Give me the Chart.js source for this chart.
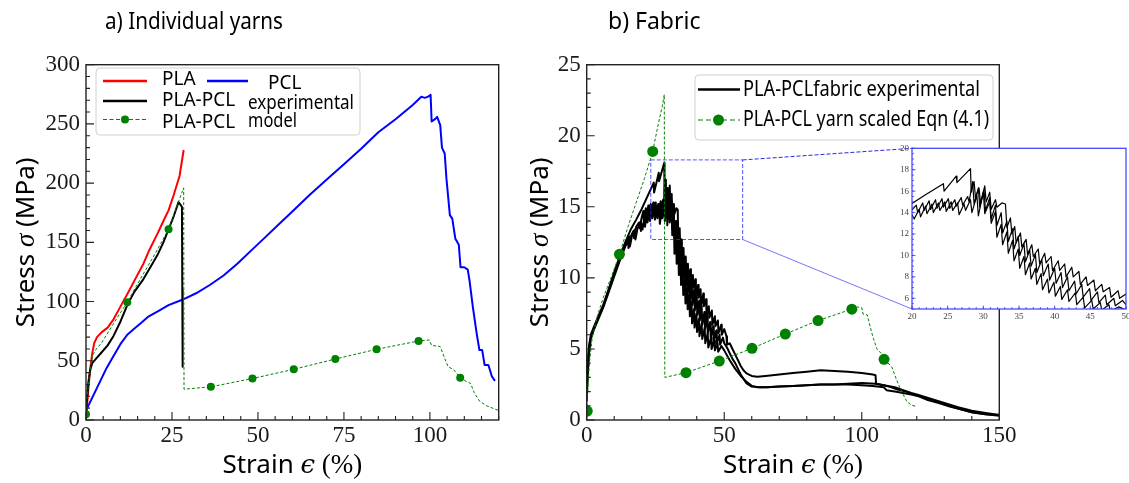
<!DOCTYPE html>
<html>
<head>
<meta charset="utf-8">
<script src="https://cdn.jsdelivr.net/npm/chart.js"></script>
<style>
  body { margin: 0; background: #fff; }
  #wrap { position: relative; width: 1129px; height: 483px; }
  canvas { position: absolute; left: 0; top: 0; }
</style>
</head>
<body>
<div id="wrap">
  <canvas id="yarns" width="1129" height="483"></canvas>
  <canvas id="fabric" width="1129" height="483"></canvas>
  <canvas id="inset" width="1129" height="483"></canvas>
</div>
<script>
// a) individual yarns, [strain %, stress MPa]
const pla = [[0,0],[0.3,12],[0.8,30],[1.3,45],[1.8,56],[2.4,65],[3.2,70],[4.5,74],[6.3,78],[8,85],[9.5,93],[11,101],[12.5,109],[14.5,120],[16.7,132],[18.5,144],[20.9,158],[22.5,168],[24,177],[25.5,190],[27.2,206],[28.4,228]];
const pcl = [[0,8],[2,20],[4,32],[6,44],[8,54],[10,64],[12,72],[14,77],[16,82],[18,87],[21,92],[24,97],[28,101.5],[32,107],[36,114],[40,122],[44,132],[48,143],[52,154],[56,165],[60,176],[65,190],[70,203],[75,216],[80,229],[85,243],[90,254],[95,266],[97.5,273],[98.5,272],[99.5,273],[100.2,274.5],[100.5,252],[101.5,254],[102.1,256],[103,249],[103.5,230],[104.3,225],[104.8,204],[105.8,173],[106.5,170],[107.4,153],[108.4,148],[108.9,129],[110,129],[111,127],[111.5,118],[112.5,95],[113.6,73],[114.4,59],[115.2,59],[115.9,46.5],[117,46.5],[118,37],[118.9,33]];
const yarnExp = [[0,5],[0.3,18],[0.7,32],[1.2,42],[1.8,48],[3,52],[4.5,57],[6.3,63],[8,71],[10,83],[12,97],[14,108],[16.7,119],[18.5,128],[20.9,140],[22.5,150],[24,161],[25.5,172],[26.9,184],[27.4,182],[27.9,180],[28.0,110],[28.1,45]];
const yarnModel = [[0,4.8],[0.5,25],[1,38],[2,55],[3,60],[4.5,65],[6,72],[9,86],[12,99.4],[15,115],[18,130],[21,145],[24,161],[26,177],[27.5,189],[28.4,196],[28.5,26],[36.3,28],[48.4,35],[60.4,42.8],[72.5,51.5],[84.5,59.7],[96.7,66.7],[99.8,67.6],[100.5,63],[103,62],[104.3,52],[105.3,45],[106.9,42.5],[108.8,35.7],[110.7,32.4],[111.8,31],[112.9,23],[114.4,16],[116.5,12],[118.6,9.6],[120,8]];
const yarnModelMarks = [[0,4.8],[12,99.4],[24,161],[36.3,28],[48.4,35],[60.4,42.8],[72.5,51.5],[84.5,59.7],[96.7,66.7],[108.8,35.7]];

// b) fabric, three experimental runs
const fabricA = [[0,1.6],[0.3,3.2],[0.7,4.7],[1.2,5.6],[2.4,6.3],[4,7.1],[6,8],[8,9.2],[10,10.4],[12,11.5],[14,12.5],[16,13.4],[18,14.1],[20,14.85],[22,15.7],[24.4,16.7],[24.5,16.0],[26.2,17.4],[26.3,16.8],[28.2,18.1],[28.3,15.9],[28.7,16.9],[28.9,15.4],[29.4,16.3],[29.6,14.9],[30.2,16.5],[30.4,15.0],[30.9,15.9],[31.1,14.3],[31.7,15.2],[31.9,14.5],[32.6,14.9],[33.1,14.8],[33.3,12.6],[33.8,13.5],[34,12.0],[34.4,12.7],[34.6,11.2],[35.2,12.1],[35.4,10.8],[36,11.5],[36.2,10.1],[36.8,11.0],[37,9.9],[37.7,10.6],[37.9,9.2],[38.6,10.2],[38.8,9.3],[39.5,9.9],[39.7,8.6],[40.5,9.5],[40.7,8.6],[41.4,9.2],[41.6,8.0],[42.4,8.9],[42.6,8.0],[43.4,8.5],[43.6,7.3],[44.4,8.0],[44.6,7.2],[45.5,7.7],[45.7,6.7],[46.6,7.3],[46.8,6.6],[47.7,7.0],[47.9,6.1],[48.9,6.7],[49.1,6.0],[50,6.4],[50.8,5.9],[51,5.3],[52,5.4],[53,5.0],[54,4.6],[55,4.2],[56,3.8],[57,3.5],[58,3.3],[59,3.2],[60,3.1],[62,3.05],[65,3.1],[70,3.2],[75,3.3],[80,3.4],[85,3.5],[90,3.45],[95,3.4],[100,3.3],[104,3.2],[105,3.15],[105.2,2.55],[108,2.45],[112,2.3],[115,2.1],[118,1.9],[120,1.8],[125,1.5],[130,1.2],[135,0.9],[140,0.65],[145,0.5],[150,0.35]];
const fabricB = [[0,1.3],[0.3,2.9],[0.8,4.6],[1.5,5.7],[2.5,6.3],[4,7],[6,7.9],[8,9],[10,10.1],[12,11.2],[14,12.2],[15,12.6],[15.2,12.1],[16,12.9],[17,13.3],[17.2,12.8],[18,13.6],[19,13.9],[19.2,13.5],[20,14.25],[20.6,14.7],[20.8,14.0],[21.5,14.9],[21.7,14.2],[22.4,15.1],[22.6,14.3],[23.3,15.2],[23.5,14.4],[24.2,15.3],[24.4,14.5],[25.1,15.3],[25.3,14.4],[26,15.2],[26.2,14.6],[26.9,15.4],[27.1,14.7],[27.8,15.5],[28,15.0],[28.5,16.9],[28.7,14.8],[29.3,16.3],[29.5,14.5],[30.1,16.1],[30.3,14.2],[30.9,15.4],[31.1,13.4],[31.7,14.7],[31.9,12.8],[32.5,14.0],[32.7,12.1],[33.3,13.2],[33.5,11.3],[34.1,12.5],[34.3,10.6],[34.9,11.8],[35.1,10.0],[35.7,11.1],[35.9,9.4],[36.5,10.5],[36.7,9.0],[37.3,10.1],[37.5,8.4],[38.2,9.6],[38.4,8.1],[39.1,9.2],[39.3,7.7],[40,8.8],[40.2,7.4],[40.9,8.4],[41.1,7.0],[41.8,8.0],[42,6.7],[42.8,7.6],[43,6.4],[43.8,7.3],[44,6.1],[44.9,6.9],[45.1,5.8],[46,6.6],[46.2,5.6],[47.1,6.3],[47.3,5.4],[48.3,6.0],[48.5,5.3],[49.5,5.8],[50,5.4],[51,5.1],[52,4.7],[53,4.3],[54,4.0],[55,3.6],[56,3.2],[57,2.9],[58,2.6],[60,2.35],[63,2.3],[66,2.3],[70,2.35],[75,2.4],[80,2.45],[85,2.5],[90,2.5],[95,2.55],[100,2.6],[105,2.55],[108,2.45],[110,2.35],[113,2.15],[116,2.0],[119,1.8],[122,1.6],[126,1.4],[130,1.1],[135,0.8],[140,0.55],[145,0.4],[150,0.3]];
const fabricC = [[0,1.9],[0.3,3.6],[0.8,5.1],[1.5,6],[2.5,6.5],[4,7.2],[6,8.1],[8,9.2],[10,10.3],[12,11.3],[14,12.3],[15.5,12.9],[15.7,12.2],[16.5,13],[17.5,13.4],[17.7,12.7],[18.5,13.5],[19.5,13.9],[19.7,13.3],[20,13.8],[20.3,13.4],[21,14.3],[21.2,13.6],[21.9,14.6],[22.1,13.9],[22.8,14.8],[23,14.0],[23.7,14.9],[23.9,14.2],[24.6,15.0],[24.8,14.1],[25.5,15.0],[25.7,14.2],[26.4,14.9],[26.6,13.8],[27.3,14.8],[27.5,14.2],[28.2,15.2],[28.4,14.0],[29.1,15.6],[29.3,13.7],[30,15.9],[30.2,13.9],[30.9,15.0],[31.1,13.0],[31.7,14.1],[31.9,11.7],[32.5,12.9],[32.7,11.0],[33.3,12.2],[33.5,10.2],[34.1,11.4],[34.3,9.5],[34.9,10.6],[35.1,8.8],[35.7,9.9],[35.9,8.2],[36.5,9.3],[36.7,7.8],[37.3,8.8],[37.5,7.3],[38.1,8.3],[38.3,6.8],[39,7.8],[39.2,6.5],[39.9,7.5],[40.1,6.2],[40.8,7.1],[41,5.9],[41.8,6.8],[42,5.7],[42.9,6.5],[43.1,5.4],[44,6.1],[44.2,5.1],[45.2,5.8],[45.4,5.0],[46.4,5.6],[46.6,4.9],[47.6,5.4],[47.8,4.8],[49,5.2],[50,4.9],[52,4.2],[54,3.6],[56,3.1],[58,2.7],[60,2.4],[62,2.3],[65,2.3],[70,2.35],[75,2.4],[80,2.45],[85,2.5],[90,2.5],[95,2.5],[100,2.45],[104,2.4],[108,2.3],[109,2.1],[112,2.0],[115,1.9],[118,1.8],[121,1.65],[124,1.4],[128,1.2],[132,0.95],[136,0.75],[140,0.55],[145,0.4],[150,0.35]];
const fabricModel = [[0,0.6],[0.5,2.5],[1,4],[2,5.8],[4,7.4],[6,8.6],[9,10.1],[12,11.7],[15,13.6],[18,15.3],[21,17],[24,18.9],[26,20.8],[27.5,22.1],[28.2,22.9],[28.4,3.0],[36.1,3.33],[48.2,4.15],[60.1,5.04],[72.2,6.05],[84.1,7.0],[96.4,7.8],[98.5,7.95],[100,7.9],[100.5,7.45],[102,7.4],[103,6.6],[104.2,5.75],[105.5,5.0],[107,4.7],[108.1,4.27],[110.9,3.75],[112.5,2.9],[113.9,2.23],[116.4,1.29],[118,1.05],[120,0.94]];
const fabricModelMarks = [[0.2,0.63],[11.9,11.66],[24,18.9],[36.1,3.33],[48.2,4.15],[60.1,5.04],[72.2,6.05],[84.1,7.0],[96.4,7.8],[108.1,4.27]];

// tick labels
const yarnStrainTicks = [0, 25, 50, 75, 100];
const yarnStressTicks = [0, 50, 100, 150, 200, 250, 300];
const fabricStrainTicks = [0, 50, 100, 150];
const fabricStressTicks = [0, 5, 10, 15, 20, 25];
const insetStrainTicks = [20, 25, 30, 35, 40, 45, 50];
const insetStressTicks = [6, 8, 10, 12, 14, 16, 18, 20];
// zoomed region marked on the fabric plot: strain from/to, stress from/to
const zoomBox = [23.3, 56.7, 12.7, 18.3];

const W = 1129, H = 483;
const areaA = { left: 86, top: 64.7, right: 498.7, bottom: 420 };
const areaB = { left: 586.7, top: 64.7, right: 999.3, bottom: 420 };
const areaI = { left: 912, top: 148.3, right: 1126, bottom: 309 };
const SANS = '"Noto Sans", sans-serif';
const SERIF = '"Liberation Serif", serif';
const GREEN = '#008000';

const xy = arr => arr.map(([x, y]) => ({ x, y }));
const line = (d, color, w, dash) => ({ data: xy(d), showLine: true, borderColor: color, borderWidth: w,
  borderDash: dash || [], borderJoinStyle: 'round', pointRadius: 0, tension: 0, fill: false });
const marks = (d, r) => ({ data: xy(d), showLine: false, pointRadius: r,
  pointBackgroundColor: GREEN, pointBorderColor: GREEN, pointBorderWidth: 0 });

function baseOptions(area, c) {
  return {
    responsive: false, animation: false, events: [], devicePixelRatio: 1,
    layout: { padding: { left: 0, top: area.top, right: W - area.right, bottom: 0 } },
    plugins: { legend: { display: false }, tooltip: { enabled: false }, frame: c.frame },
    scales: {
      x: {
        type: 'linear', min: c.xMin, max: c.xMax,
        grid: { display: false, drawTicks: false }, border: { display: false },
        afterBuildTicks: s => { s.ticks = c.xTicks.map(v => ({ value: v })); },
        afterFit: s => { s.height = H - area.bottom; s.paddingLeft = 0; s.paddingRight = 0; },
        ticks: { font: { family: SERIF, size: c.font }, color: c.tickColor, padding: c.xPad, maxRotation: 0, autoSkip: false }
      },
      y: {
        type: 'linear', min: c.yMin, max: c.yMax,
        grid: { display: false, drawTicks: false }, border: { display: false },
        afterBuildTicks: s => { s.ticks = c.yTicks.map(v => ({ value: v })); },
        afterFit: s => { s.width = area.left; s.paddingTop = 0; s.paddingBottom = 0; },
        ticks: { font: { family: SERIF, size: c.font }, color: c.tickColor, padding: c.yPad, autoSkip: false }
      }
    }
  };
}

// box around the plot plus inward major/minor ticks
const frame = {
  id: 'frame',
  beforeDatasetsDraw(chart, args, o) {
    if (!o.fill) return;
    const a = chart.chartArea, ctx = chart.ctx;
    ctx.save(); ctx.fillStyle = o.fill; ctx.fillRect(a.left, a.top, a.width, a.height); ctx.restore();
  },
  afterDraw(chart, args, o) {
    const { ctx, chartArea: a, scales: { x, y } } = chart;
    ctx.save();
    ctx.strokeStyle = o.color;
    ctx.lineWidth = o.tickWidth;
    ctx.beginPath();
    const tx = (v, len) => { const p = x.getPixelForValue(v); ctx.moveTo(p, a.bottom); ctx.lineTo(p, a.bottom - len); };
    const ty = (v, len) => { const p = y.getPixelForValue(v); ctx.moveTo(a.left, p); ctx.lineTo(a.left + len, p); };
    for (let v = x.min; v <= x.max + 1e-9; v += o.xMinor) tx(v, o.minorLen);
    for (let v = y.min; v <= y.max + 1e-9; v += o.yMinor) ty(v, o.minorLen);
    x.ticks.forEach(t => tx(t.value, o.majorLen));
    y.ticks.forEach(t => ty(t.value, o.majorLen));
    ctx.stroke();
    ctx.lineWidth = o.width;
    ctx.strokeRect(a.left, a.top, a.right - a.left, a.bottom - a.top);
    ctx.restore();
  }
};

function pieces(ctx, parts, x, y) {
  let total = 0;
  parts.forEach(p => { ctx.font = p[1]; p.w = ctx.measureText(p[0]).width; total += p.w; });
  let cx = x - total / 2;
  ctx.textAlign = 'left';
  parts.forEach(p => { ctx.font = p[1]; ctx.fillText(p[0], cx, y); cx += p.w; });
}

function axisTitles(ctx, a, yTitleX) {
  ctx.fillStyle = '#000';
  ctx.textBaseline = 'alphabetic';
  pieces(ctx, [['Strain ', `26px ${SANS}`], ['\u03f5', `italic 26px "DejaVu Serif"`], [' (%)', `27px ${SERIF}`]],
    (a.left + a.right) / 2, 473);
  ctx.save();
  ctx.translate(yTitleX, (a.top + a.bottom) / 2);
  ctx.rotate(-Math.PI / 2);
  pieces(ctx, [['Stress ', `26px ${SANS}`], ['\u03c3', `italic 27px ${SERIF}`], [' (MPa)', `26px ${SANS}`]], 0, 0);
  ctx.restore();
}

function legendBox(ctx, l, t, r, b) {
  ctx.save();
  ctx.fillStyle = 'rgba(255,255,255,0.85)';
  ctx.strokeStyle = '#d0d0d0';
  ctx.lineWidth = 1;
  ctx.beginPath();
  ctx.roundRect(l, t, r - l, b - t, 4);
  ctx.fill(); ctx.stroke();
  ctx.restore();
}

function handle(ctx, x0, x1, y, color, w, dash) {
  ctx.save();
  ctx.strokeStyle = color; ctx.lineWidth = w; ctx.setLineDash(dash || []);
  ctx.beginPath(); ctx.moveTo(x0, y); ctx.lineTo(x1, y); ctx.stroke();
  ctx.restore();
}

function dot(ctx, x, y, r) {
  ctx.save(); ctx.fillStyle = GREEN; ctx.beginPath(); ctx.arc(x, y, r, 0, Math.PI * 2); ctx.fill(); ctx.restore();
}

function label(ctx, text, x, y, size, maxW) {
  ctx.font = `${size}px ${SANS}`;
  ctx.textAlign = 'left'; ctx.textBaseline = 'middle'; ctx.fillStyle = '#000';
  ctx.fillText(text, x, y, maxW);
}

const yarnText = {
  id: 'yarnText',
  afterDraw(chart) {
    const { ctx, chartArea: a } = chart;
    ctx.save();
    ctx.font = `23px ${SANS}`; ctx.fillStyle = '#000'; ctx.textBaseline = 'alphabetic'; ctx.textAlign = 'left';
    ctx.fillText('a) Individual yarns', 105, 29, 178);
    axisTitles(ctx, a, 34);
    legendBox(ctx, 96, 68, 360, 135);
    handle(ctx, 103, 147, 81, '#ff0000', 2.5);
    label(ctx, 'PLA', 162, 80, 19, 37);
    handle(ctx, 207, 248, 81, '#0000ff', 2.5);
    label(ctx, 'PCL', 268, 84, 19, 36);
    handle(ctx, 103, 147, 101, '#000', 2.5);
    label(ctx, 'PLA-PCL', 162, 101, 19, 77);
    label(ctx, 'experimental', 248, 104, 19, 106);
    handle(ctx, 103, 147, 119.5, GREEN, 1, [4, 2.5]);
    dot(ctx, 125, 119.5, 4);
    label(ctx, 'PLA-PCL', 162, 122.5, 19, 77);
    label(ctx, 'model', 248, 122, 19, 49);
    ctx.restore();
  }
};

const fabricText = {
  id: 'fabricText',
  afterDatasetsDraw(chart) {
    const { ctx, scales: { x, y } } = chart;
    const x0 = x.getPixelForValue(zoomBox[0]), x1 = x.getPixelForValue(zoomBox[1]);
    const y0 = y.getPixelForValue(zoomBox[2]), y1 = y.getPixelForValue(zoomBox[3]);
    ctx.save();
    ctx.strokeStyle = 'rgba(40,40,255,0.8)'; ctx.lineWidth = 1; ctx.setLineDash([4, 2]);
    ctx.strokeRect(x0, y1, x1 - x0, y0 - y1);
    ctx.strokeStyle = 'rgba(20,20,220,0.9)';
    ctx.beginPath(); ctx.moveTo(x1, y1); ctx.lineTo(areaI.left, areaI.top); ctx.stroke();
    ctx.setLineDash([]); ctx.strokeStyle = 'rgba(60,60,255,0.7)';
    ctx.beginPath(); ctx.moveTo(x1, y0); ctx.lineTo(areaI.left, areaI.bottom); ctx.stroke();
    ctx.restore();
  },
  afterDraw(chart) {
    const { ctx, chartArea: a } = chart;
    ctx.save();
    ctx.font = `23px ${SANS}`; ctx.fillStyle = '#000'; ctx.textBaseline = 'alphabetic'; ctx.textAlign = 'left';
    ctx.fillText('b) Fabric', 608, 29, 93);
    axisTitles(ctx, a, 548);
    legendBox(ctx, 695, 75, 993, 140);
    handle(ctx, 698, 740, 89.5, '#000', 2.5);
    label(ctx, 'PLA-PCLfabric experimental', 743, 90.5, 21, 237);
    handle(ctx, 698, 740, 120, GREEN, 1.2, [5, 3]);
    dot(ctx, 718.5, 120, 5.5);
    label(ctx, 'PLA-PCL yarn scaled Eqn (4.1)', 743, 120.5, 21, 246);
    ctx.restore();
  }
};

new Chart(document.getElementById('yarns'), {
  type: 'scatter',
  data: { datasets: [
    marks(yarnModelMarks, 4),
    line(yarnModel, GREEN, 1, [3, 2]),
    line(yarnExp, '#000', 2),
    line(pla, '#ff0000', 2),
    line(pcl, '#0000ff', 2)
  ] },
  options: baseOptions(areaA, {
    xMin: 0, xMax: 120, yMin: 0, yMax: 300, xTicks: yarnStrainTicks, yTicks: yarnStressTicks,
    font: 23, tickColor: '#1a1a1a', xPad: 2, yPad: 6,
    frame: { color: '#222', width: 1.4, tickWidth: 1.1, majorLen: 8, minorLen: 4, xMinor: 5, yMinor: 10 }
  }),
  plugins: [frame, yarnText]
});

new Chart(document.getElementById('fabric'), {
  type: 'scatter',
  data: { datasets: [
    marks(fabricModelMarks, 5.5),
    line(fabricModel, GREEN, 1, [3, 2]),
    line(fabricA, '#000', 2),
    line(fabricB, '#000', 2),
    line(fabricC, '#000', 2)
  ] },
  options: baseOptions(areaB, {
    xMin: 0, xMax: 150, yMin: 0, yMax: 25, xTicks: fabricStrainTicks, yTicks: fabricStressTicks,
    font: 23, tickColor: '#1a1a1a', xPad: 2, yPad: 6,
    frame: { color: '#222', width: 1.4, tickWidth: 1.1, majorLen: 8, minorLen: 4, xMinor: 10, yMinor: 1 }
  }),
  plugins: [frame, fabricText]
});

new Chart(document.getElementById('inset'), {
  type: 'scatter',
  data: { datasets: [
    line(fabricA, '#000', 1.2),
    line(fabricB, '#000', 1.2),
    line(fabricC, '#000', 1.2)
  ] },
  options: baseOptions(areaI, {
    xMin: 20, xMax: 50, yMin: 5, yMax: 20, xTicks: insetStrainTicks, yTicks: insetStressTicks,
    font: 9, tickColor: '#444', xPad: 2, yPad: 3,
    frame: { fill: '#fff', color: '#3a3aff', width: 1.2, tickWidth: 0.8, majorLen: 3.5, minorLen: 2, xMinor: 1, yMinor: 0.5 }
  }),
  plugins: [frame]
});
</script>
</body>
</html>
